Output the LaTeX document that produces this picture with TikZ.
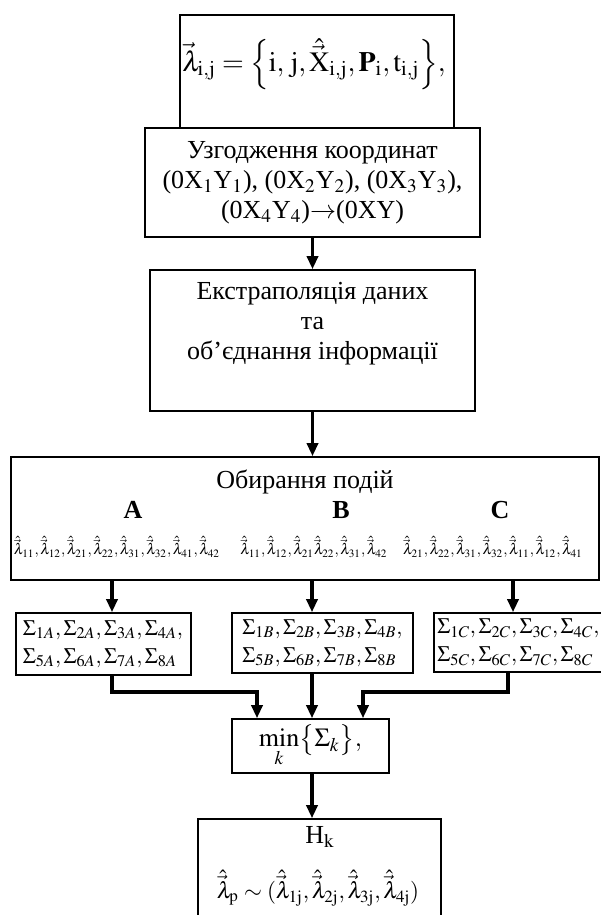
\documentclass[tikz,border=0pt]{standalone}
\usepackage{amsmath}
\usepackage{mathptmx}
\usepackage{fontspec}
\setmainfont{Liberation Serif}
\usetikzlibrary{arrows.meta}
\usetikzlibrary{calc}
\usetikzlibrary{positioning}

\newcommand{\hl}[1]{\hat{\vec{\lambda}}_{#1}}

\begin{document}
\begin{tikzpicture}[x=0.5pt,y=-0.5pt,
    box/.style={draw,line width=0.8pt,inner sep=0pt},
    txt/.style={inner sep=0pt,align=center,font=\fontsize{13}{15}\selectfont},
    small/.style={inner sep=0pt,font=\fontsize{7.6}{9}\selectfont},
    sums/.style={inner sep=0pt,align=left,font=\fontsize{11}{14}\selectfont},
    arr/.style={line width=1.6pt,-{Triangle[length=6.5pt,width=5.5pt]}}]
    \useasboundingbox (0,0) rectangle (600,915);

    \coordinate (colA) at (112,0);
    \coordinate (colB) at (312,0);
    \coordinate (colC) at (513,0);
    \coordinate (outC) at (508,0);
    \coordinate (inA) at (257,0);
    \coordinate (inC) at (363,0);
    \coordinate (bend) at (0,692);

    \node[box,minimum width=137pt,minimum height=56.5pt] (vec) at (317,71.5) {};
    \node[txt,font=\fontsize{14}{16}\selectfont] (vectext) at (314,64)
        {$\vec{\lambda}_{\mathrm{i,j}}=\Bigl\{\mathrm{i},\,\mathrm{j},\hat{\vec{\mathrm{X}}}_{\mathrm{i,j}},\mathbf{P}_{\mathrm{i}},\mathrm{t}_{\mathrm{i,j}}\Bigr\},$};

    \node[box,txt,minimum width=167.5pt,minimum height=54.5pt] (coord) at (312.5,182.5)
        {Узгодження координат\\(0X$_1$Y$_1$), (0X$_2$Y$_2$), (0X$_3$Y$_3$),\\(0X$_4$Y$_4$)$\rightarrow$(0XY)};

    \node[box,minimum width=162.5pt,minimum height=70.5pt] (extr) at (312.5,340.5) {};
    \node[txt] (extrtext) at (312.5,324) {Екстраполяція даних\\та\\об’єднання інформації};

    \node[box,minimum width=294pt,minimum height=61.5pt] (choice) at (305,518.5) {};
    \node[txt] (title) at (305,482) {Обирання подій};
    \node[txt,font=\fontsize{13}{15}\selectfont\bfseries] (gA) at (133,510) {A};
    \node[txt,font=\fontsize{13}{15}\selectfont\bfseries] (gB) at (341,510) {B};
    \node[txt,font=\fontsize{13}{15}\selectfont\bfseries] (gC) at (500,510) {C};
    \node[small] (lamA) at (117,547) {$\hl{11},\hl{12},\hl{21},\hl{22},\hl{31},\hl{32},\hl{41},\hl{42}$};
    \node[small] (lamB) at (314,547) {$\hl{11},\hl{12},\hl{21}\hl{22},\hl{31},\hl{42}$};
    \node[small] (lamC) at (493,547) {$\hl{21},\hl{22},\hl{31},\hl{32},\hl{11},\hl{12},\hl{41}$};

    \node[box,minimum width=87.5pt,minimum height=31pt] (sumA) at (103.5,644) {};
    \node[sums] (sumAtext) at (103,644)
        {$\Sigma_{1A},\Sigma_{2A},\Sigma_{3A},\Sigma_{4A},$\\$\Sigma_{5A},\Sigma_{6A},\Sigma_{7A},\Sigma_{8A}$};
    \node[box,minimum width=90.5pt,minimum height=30pt] (sumB) at (322.5,643) {};
    \node[sums] (sumBtext) at (322.5,643)
        {$\Sigma_{1B},\Sigma_{2B},\Sigma_{3B},\Sigma_{4B},$\\$\Sigma_{5B},\Sigma_{6B},\Sigma_{7B},\Sigma_{8B}$};
    \node[box,minimum width=90pt,minimum height=29.5pt,anchor=west] (sumC) at (433,642.5) {};
    \node[sums,anchor=west] (sumCtext) at (437,642.5)
        {$\Sigma_{1C},\Sigma_{2C},\Sigma_{3C},\Sigma_{4C},$\\$\Sigma_{5C},\Sigma_{6C},\Sigma_{7C},\Sigma_{8C}$};

    \node[box,txt,minimum width=78.5pt,minimum height=27pt] (min) at (310.5,746)
        {$\min\limits_{k}\bigl\{\Sigma_{k}\bigr\},$};

    \node[box,minimum width=121.5pt,minimum height=70.5pt] (hyp) at (319.5,889.5) {};
    \node[txt] (hk) at (320,837) {H$_{\mathrm{k}}$};
    \node[txt,font=\fontsize{11.5}{14}\selectfont] (lamp) at (318,888)
        {$\hl{\mathrm{p}}\mathrel{\sim}(\hl{\mathrm{1j}},\hl{\mathrm{2j}},\hl{\mathrm{3j}},\hl{\mathrm{4j}})$};

    \draw[arr] (coord.south) -- (extr.north);
    \draw[arr] (extr.south) -- (extr.south |- choice.north);
    \draw[arr] (colA |- choice.south) -- (colA |- sumA.north);
    \draw[arr] (colB |- choice.south) -- (colB |- sumB.north);
    \draw[arr] (colC |- choice.south) -- (colC |- sumC.north);
    \draw[arr] (colA |- sumA.south) -- (colA |- bend) -- (inA |- bend) -- (inA |- min.north);
    \draw[arr] (colB |- sumB.south) -- (colB |- min.north);
    \draw[arr] (outC |- sumC.south) -- (outC |- bend) -- (inC |- bend) -- (inC |- min.north);
    \draw[arr] (colB |- min.south) -- (colB |- hyp.north);
\end{tikzpicture}
\end{document}
